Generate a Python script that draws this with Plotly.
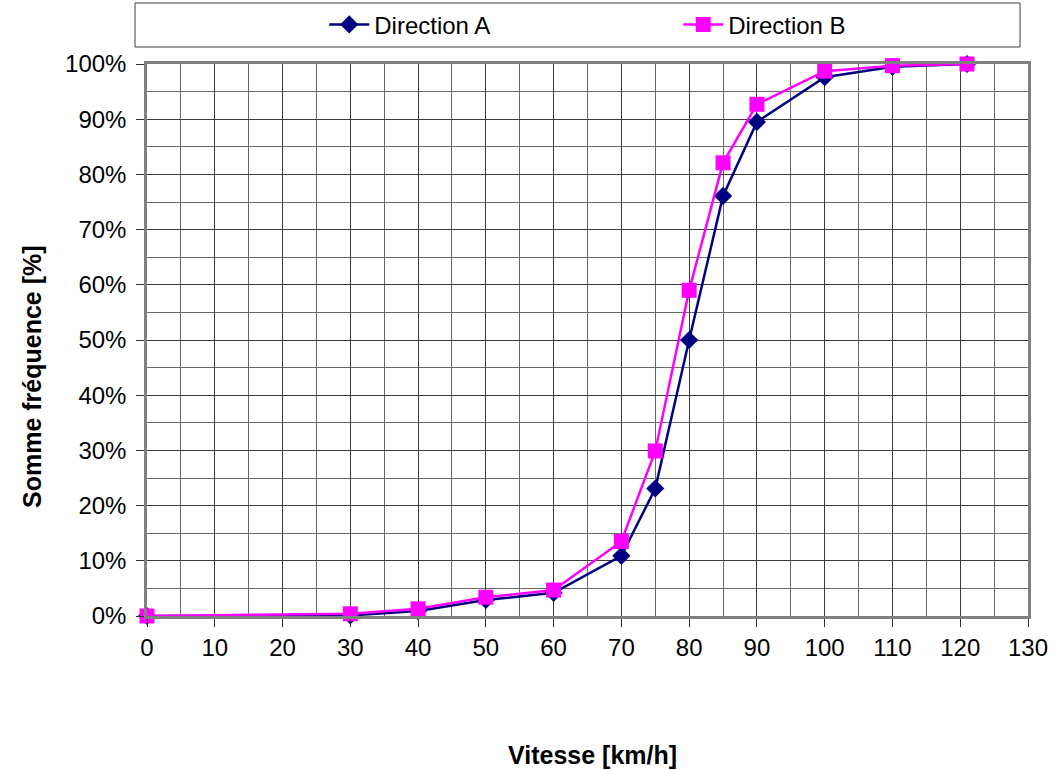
import plotly.graph_objects as go

# Cumulative speed distribution per travel direction
speed_a = [0, 30, 40, 50, 60, 70, 75, 80, 85, 90, 100, 110, 121]
cum_a = [0.0, 0.1, 0.9, 2.9, 4.2, 10.9, 23.1, 50.0, 76.1, 89.5, 97.6, 99.5, 100.0]

speed_b = [0, 30, 40, 50, 60, 70, 75, 80, 85, 90, 100, 110, 121]
cum_b = [0.0, 0.4, 1.3, 3.4, 4.7, 13.5, 29.9, 59.0, 82.1, 92.7, 98.7, 99.7, 100.0]

x_ticks = list(range(0, 131, 10))
y_ticks = list(range(0, 101, 10))

FONT = "Liberation Sans, Arial, sans-serif"

fig = go.Figure()
fig.add_trace(go.Scatter(
    x=speed_a, y=cum_a, name="Direction A", mode="lines+markers",
    line=dict(color="#000080", width=2.5),
    marker=dict(symbol="diamond", size=14, color="#000080"),
    cliponaxis=False,
))
fig.add_trace(go.Scatter(
    x=speed_b, y=cum_b, name="Direction B", mode="lines+markers",
    line=dict(color="#FF00FF", width=2.5),
    marker=dict(symbol="square", size=15, color="#FF00FF"),
    cliponaxis=False,
))

grid_major = "#3a3a3a"
grid_minor = "#6a6a6a"

fig.update_xaxes(
    range=[0, 130], tickvals=x_ticks, ticktext=[str(v) for v in x_ticks],
    showgrid=True, gridcolor=grid_major, gridwidth=1,
    minor=dict(dtick=5, showgrid=True, gridcolor=grid_minor, gridwidth=1),
    showline=True, linecolor="#808080", linewidth=2.5, mirror=True,
    ticks="outside", ticklen=8, tickcolor="#333333",
    tickfont=dict(family=FONT, size=24, color="#000000"),
    zeroline=False,
)
fig.update_yaxes(
    range=[0, 100], tickvals=y_ticks, ticktext=[f"{v}%" for v in y_ticks],
    showgrid=True, gridcolor=grid_major, gridwidth=1,
    minor=dict(dtick=5, showgrid=True, gridcolor=grid_minor, gridwidth=1),
    showline=True, linecolor="#808080", linewidth=2.5, mirror=True,
    ticks="outside", ticklen=8, tickcolor="#333333", ticklabelstandoff=5,
    tickfont=dict(family=FONT, size=24, color="#000000"),
    zeroline=False,
)

# Axis titles
fig.add_annotation(text="<b>Vitesse [km/h]</b>", xref="paper", yref="paper",
                   x=0.506, y=-0.252, xanchor="center", yanchor="middle",
                   showarrow=False, font=dict(family=FONT, size=25, color="#000000"))
fig.add_annotation(text="<b>Somme fréquence [%]</b>", xref="paper", yref="paper",
                   x=-0.1305, y=0.433, xanchor="center", yanchor="middle",
                   textangle=-90, showarrow=False,
                   font=dict(family=FONT, size=25, color="#000000"))

# Frame around the legend
fig.add_shape(type="rect", xref="paper", yref="paper",
              x0=-0.0136, x1=0.991, y0=1.0308, y1=1.1105,
              line=dict(color="#404040", width=1), fillcolor="rgba(0,0,0,0)",
              layer="below")

fig.update_layout(
    width=1062, height=770,
    margin=dict(l=147, r=34, t=64, b=154, autoexpand=False),
    paper_bgcolor="white", plot_bgcolor="white",
    font=dict(family=FONT, size=24, color="#000000"),
    showlegend=True,
    legend=dict(
        orientation="h", x=0.603, xanchor="center", y=1.071, yanchor="middle",
        bgcolor="rgba(0,0,0,0)", borderwidth=0,
        font=dict(family=FONT, size=24, color="#000000"),
        entrywidth=299, itemwidth=40,
    ),
)

fig.write_html("out.html")
